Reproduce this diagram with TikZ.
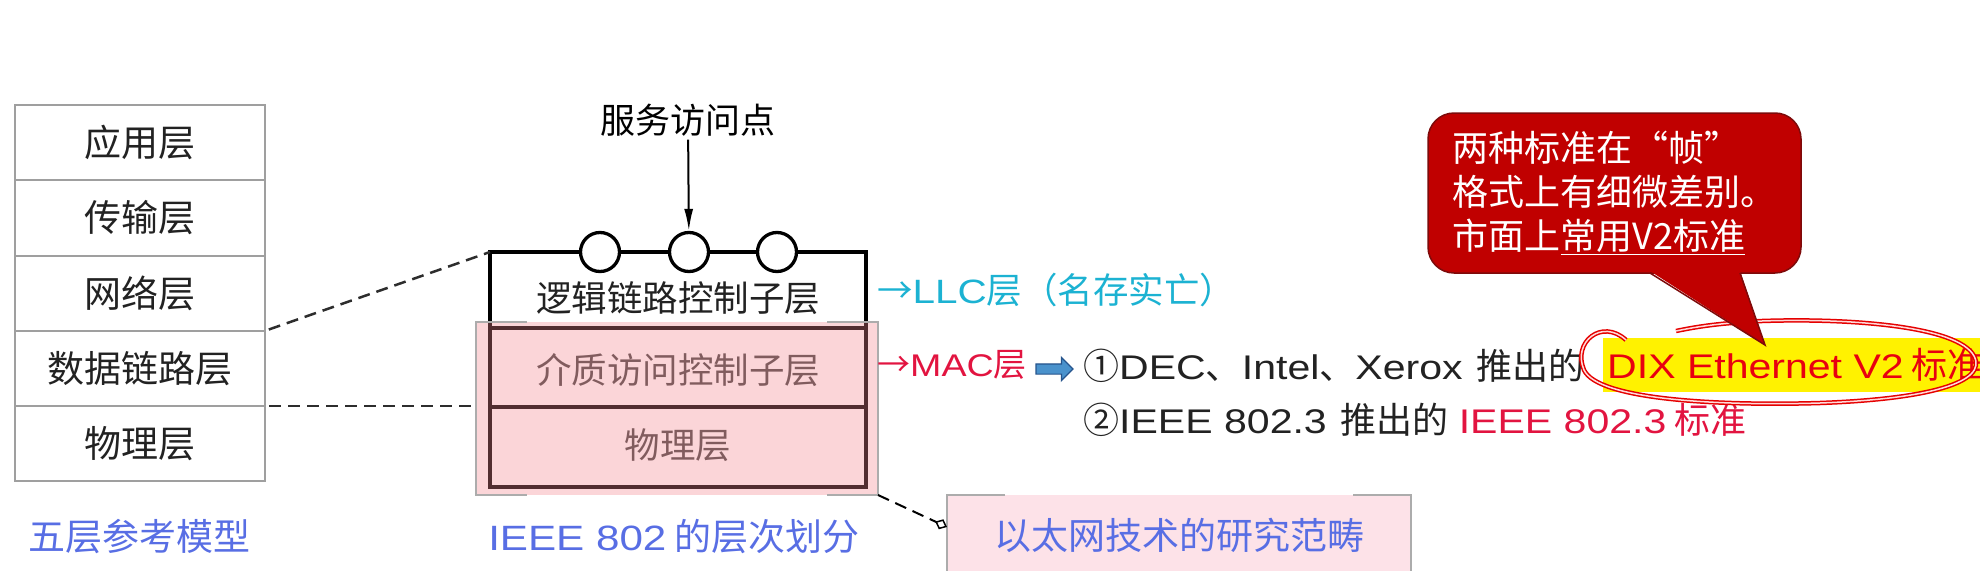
\documentclass[tikz,border=0pt]{standalone}
\usepackage{fontspec}
\setmainfont{Noto Sans CJK SC}
\newfontfamily\lat{Liberation Sans}[Scale=0.95, FakeStretch=1.2]
\usepackage{xcolor}
\usepackage{tikz}
\usetikzlibrary{arrows.meta, positioning, shapes.arrows}

\definecolor{capblue}{RGB}{88,110,228}
\definecolor{llccyan}{RGB}{28,178,210}
\definecolor{macred}{RGB}{226,20,64}
\definecolor{dixred}{RGB}{232,0,16}
\definecolor{overlaypink}{RGB}{243,133,141}
\definecolor{boxpink}{RGB}{253,226,232}
\definecolor{notered}{RGB}{192,0,0}
\definecolor{noteedge}{RGB}{125,10,10}
\definecolor{txtgray}{RGB}{34,34,34}
\definecolor{arrowblue}{RGB}{74,146,204}
\definecolor{arrowedge}{RGB}{38,84,140}

\newcommand{\fsz}[1]{\fontsize{#1}{#1}\selectfont}

\begin{document}
\begin{tikzpicture}[
    x=1pt, y=-1pt,
    layer/.style={rectangle, draw=gray!75, line width=2pt, fill=white,
                  minimum width=250pt, minimum height=75.3pt,
                  inner sep=0pt, outer sep=0pt, font=\fsz{37}, text=txtgray},
    sub/.style={rectangle, draw=black, line width=3.3pt, minimum width=376pt,
                inner sep=0pt, outer sep=0pt},
    sap/.style={circle, draw=black, line width=3.3pt, fill=white,
                minimum size=39pt, inner sep=0pt},
    subtxt/.style={font=\fsz{35.5}, inner sep=0pt},
    dashline/.style={dash pattern=on 12pt off 7pt, line width=2.5pt, draw=gray!35!black},
    caption/.style={font=\fsz{37}, text=capblue, inner sep=0pt},
    bracket/.style={draw=gray!65, line width=2pt},
    side/.style={anchor=west, inner sep=0pt},
    arr/.style={-{Latex[length=22pt, width=9pt]}, line width=2pt, draw=black},
    ring/.style={draw=red!90!black, double=red!15, double distance=1.5pt, line width=1.5pt}
]
\useasboundingbox (0,0) rectangle (1980,570);

% five-layer model
\node[layer] (app) at (140,142.6) {应用层};
\node[layer, below=0pt of app]   (trans) {传输层};
\node[layer, below=0pt of trans] (net)   {网络层};
\node[layer, below=0pt of net]   (dll)   {数据链路层};
\node[layer, below=0pt of dll]   (phys)  {物理层};
\node[caption] (fivecap) at (139,537) {五层参考模型};

% IEEE 802 sublayers
\node[sub, minimum height=76pt] (llc) at (678,290) {};
\node[sub, minimum height=79pt, below=0pt of llc] (mac) {};
\node[sub, minimum height=80pt, below=0pt of mac] (phy) {};
\node[sap] (sap1) at (600,252) {};
\node[sap] (sap2) at (689,252) {};
\node[sap] (sap3) at (777,252) {};
\node[font=\fsz{35}] (saplbl) at (688,120) {服务访问点};
\draw[arr] (saplbl) -- (sap2);

\node[subtxt, text=txtgray] (llctxt) at (678,298) {逻辑链路控制子层};
\node[subtxt, text=black!72] (mactxt) at (678,370) {介质访问控制子层};
\node[subtxt, text=black!72] (phytxt) at (678,445) {物理层};

\node[rectangle, fill=overlaypink, fill opacity=0.34, minimum width=402pt,
      minimum height=173pt, inner sep=0pt, outer sep=0pt]
    (ieee) at (677,408.5) {};
\draw[bracket] ([xshift=51pt]ieee.north west) -- (ieee.north west)
    -- (ieee.south west) -- ++(51,0);
\draw[bracket] ([xshift=-51pt]ieee.north east) -- (ieee.north east)
    -- (ieee.south east) -- ++(-51,0);
\node[caption] (ieeecap) at (674,537) {{\lat IEEE 802} 的层次划分};

\draw[dashline, shorten <=4pt] (net.south east) -- (llc.north west);
\draw[dashline, shorten <=4pt] (dll.south east) -- (dll.south east -| ieee.west);

% sublayer notes
\node[side, font=\fsz{35.5}, text=llccyan] (llclbl) at (877,290)
    {→{\lat LLC}层（名存实亡）};
\node[side, font=\fsz{33}, text=macred] (maclbl) at (877,365)
    {→{\lat MAC}层};
\node[single arrow, fill=arrowblue, draw=arrowedge, line width=1.2pt,
      minimum height=37pt, inner xsep=0pt, inner ysep=4.5pt,
      single arrow head extend=6.5pt] (fat) at (1052,369) {};

\node[side, font=\fsz{36}, text=txtgray] (std1) at (1083,366)
    {①{\lat DEC}、{\lat Intel}、{\lat Xerox}\hspace{14pt}推出的};
\node[side, font=\fsz{36}, text=txtgray] (std2) at (1083,420)
    {②{\lat IEEE 802.3}\hspace{14pt}推出的\hspace{10pt}\textcolor{macred}{{\lat IEEE 802.3} 标准}};
\node[side, font=\fsz{36}, fill=yellow, text=dixred, minimum height=54pt,
      inner xsep=4pt] (dix) at (1603,365) {{\lat DIX Ethernet V2} 标准};

\draw[ring] (1626,340) .. controls (1602,318) and (1572,342) .. (1584,370)
    .. controls (1598,400) and (1720,406) .. (1820,403)
    .. controls (1930,399) and (1988,382) .. (1974,356)
    .. controls (1958,326) and (1850,318) .. (1762,321)
    .. controls (1722,323) and (1700,326) .. (1676,331);

% callout
\node[rectangle, rounded corners=26pt, fill=notered, draw=noteedge, line width=1.5pt,
      minimum width=373pt, minimum height=160pt, text=white, align=left,
      font=\fontsize{36}{44}\selectfont]
    (note) at (1614.5,193) {两种标准在“帧”\\格式上有细微差别。\\市面上\underline{常用V2标准}};
\coordinate (tipa) at (1650,271);
\coordinate (tipb) at (1740,271);
\coordinate (tip) at (1765,345);
\fill[notered] (tipa) -- (tip) -- (tipb) -- cycle;
\draw[noteedge, line width=1.5pt] ([yshift=-2pt]tipa) -- (tip) -- ([yshift=-2pt]tipb);

% ethernet scope
\node[rectangle, fill=boxpink, minimum width=464pt, minimum height=80pt,
      inner sep=0pt, outer sep=0pt, font=\fsz{37}, text=capblue]
    (eth) at (1179,535) {以太网技术的研究范畴};
\draw[bracket] ([xshift=58pt]eth.north west) -- (eth.north west) -- (eth.south west);
\draw[bracket] ([xshift=-58pt]eth.north east) -- (eth.north east) -- (eth.south east);
\draw[dashline, line width=2pt, draw=black,
      -{Diamond[open, length=13pt, width=11pt, line width=1.5pt]}]
    (ieee.south east) -- ([yshift=8pt]eth.west);
\end{tikzpicture}
\end{document}
